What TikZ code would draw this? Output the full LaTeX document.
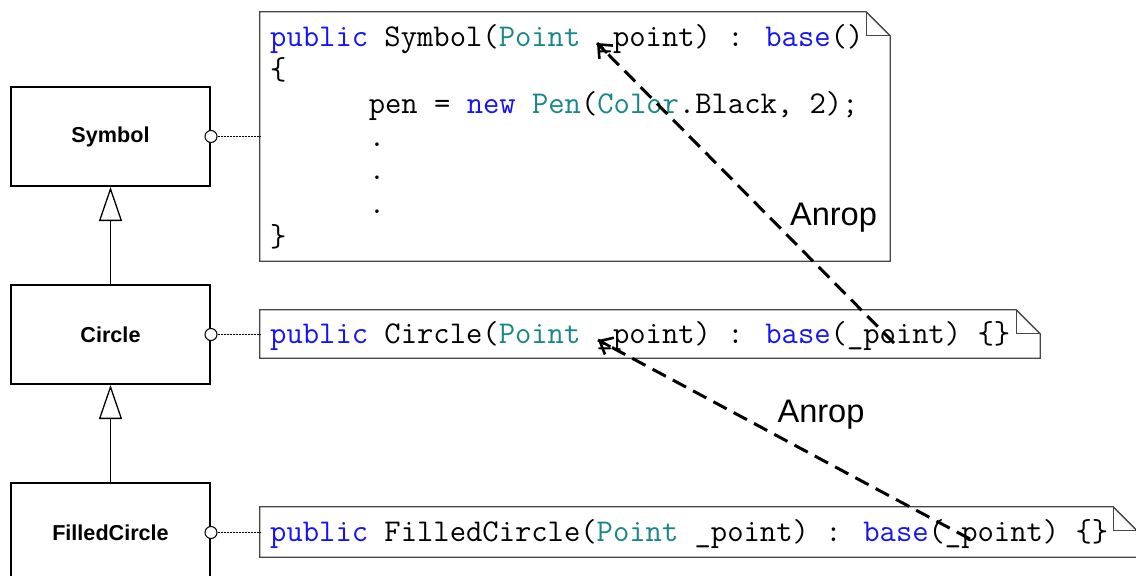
\documentclass[tikz,border=0pt]{standalone}
\usepackage{fontspec}
\newfontfamily\uisans{Liberation Sans}
\usetikzlibrary{arrows.meta,calc}
\definecolor{kwblue}{RGB}{20,20,245}
\definecolor{typeteal}{RGB}{25,135,135}
\definecolor{noteline}{RGB}{70,70,70}
\newcommand{\kw}[1]{\textcolor{kwblue}{#1}}
\newcommand{\ty}[1]{\textcolor{typeteal}{#1}}
\tikzset{
  classbox/.style={draw, line width=2pt, minimum width=199pt, minimum height=99pt,
    inner sep=0pt, font={\uisans\bfseries\fontsize{21.6}{26}\selectfont}},
  notearea/.style={inner sep=0pt},
  noteframe/.style={draw=noteline, line width=1.3pt, fill=white},
  codeline/.style={anchor=base west, inner sep=0pt,
    font={\ttfamily\fontsize{31.7}{33.3}\selectfont}},
  port/.style={circle, draw, inner sep=0pt, minimum size=12pt, line width=1pt, fill=white},
  portline/.style={dash pattern=on 2pt off 1pt, line width=1.3pt},
  inherit/.style={line width=1.3pt, -{Triangle[open, length=34pt, width=23pt, line width=1.3pt]}},
  calldash/.style={line width=3pt, dash pattern=on 15pt off 8pt},
  calltip/.style={line width=2.6pt, solid,
    -{Straight Barb[length=11pt, width=19pt]}},
  calllabel/.style={anchor=base, inner sep=0pt, font={\uisans\fontsize{32.6}{38}\selectfont}}
}
\begin{document}
\begin{tikzpicture}[x=1pt, y=-1pt]
\useasboundingbox (0,0) rectangle (1136,576);
\clip (0,0) rectangle (1136,576);

% class boxes
\node[classbox] (sym)  at (110.5,136.5) {Symbol};
\node[classbox] (circ) at (110.5,334.5) {Circle};
\node[classbox] (fill) at (110.5,532.5) {FilledCircle};

% generalisation arrows
\draw[inherit] (circ.north) -- (sym.south);
\draw[inherit] (fill.north) -- (circ.south);

% note areas (outline with folded corner drawn below)
\node[notearea, minimum width=630pt, minimum height=249pt] (symnote)  at (575,136.5) {};
\node[notearea, minimum width=780pt, minimum height=48pt]  (circnote) at (650,334) {};
\node[notearea, minimum width=877pt, minimum height=50pt]  (fillnote) at (698.5,532) {};

\foreach \n in {symnote,circnote,fillnote}{
  \draw[noteframe] (\n.south west) -- (\n.north west) -- ([xshift=-24pt]\n.north east)
    -- ([yshift=-24pt]\n.north east) -- (\n.south east) -- cycle;
  \draw[draw=noteline, line width=1.3pt] ([xshift=-24pt]\n.north east)
    -- ([xshift=-24pt,yshift=-24pt]\n.north east) -- ([yshift=-24pt]\n.north east);
}

% attachment of notes to classes
\foreach \c/\n in {sym/symnote,circ/circnote,fill/fillnote}{
  \node[port] (\c port) at (\c.east) {};
  \draw[portline] (\c port.east) -- (\c port.east -| \n.west);
}

% code text
\node[codeline] (s1) at (270,46)  {\kw{public} Symbol(\ty{Point} \_point) : \kw{base}()};
\node[codeline] (s2) at (270,79.5) {\{};
\node[codeline] (s3) at (368.6,113) {pen = \kw{new} \ty{Pen}(\ty{Color}.Black, 2);};
\node[codeline] (s4) at (368.6,146) {.};
\node[codeline] (s5) at (368.6,179.5) {.};
\node[codeline] (s6) at (368.6,213) {.};
\node[codeline] (s7) at (270,246) {\}};
\node[codeline] (c1) at (270,343) {\kw{public} Circle(\ty{Point} \_point) : \kw{base}(\_point) \{\}};
\node[codeline] (f1) at (270,541) {\kw{public} FilledCircle(\ty{Point} \_point) : \kw{base}(\_point) \{\}};

% call arrows: dashed shaft plus a solid open head
\coordinate (symarg)   at (597,43);
\coordinate (circcall) at (894,343);
\coordinate (circarg)  at (598,340);
\coordinate (fillcall) at (970,539);
\draw[calldash] (circcall) -- (symarg);
\draw[calltip] ($(symarg)!14pt!(circcall)$) -- (symarg);
\draw[calldash] (fillcall) -- (circarg);
\draw[calltip] ($(circarg)!14pt!(fillcall)$) -- (circarg);
\node[calllabel] (lbl1) at (833.5,225) {Anrop};
\node[calllabel] (lbl2) at (821,422) {Anrop};
\end{tikzpicture}
\end{document}
